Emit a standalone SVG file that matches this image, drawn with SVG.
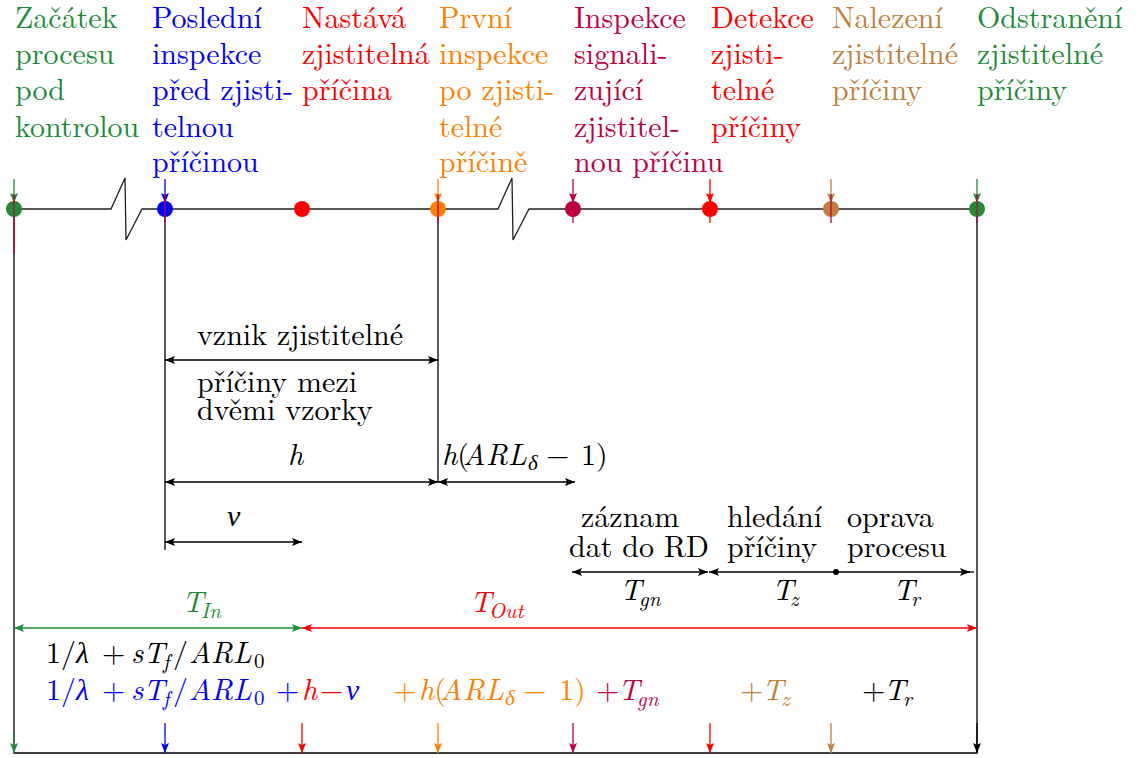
<svg xmlns="http://www.w3.org/2000/svg" width="1142" height="758" viewBox="0 0 1142 758" font-family="'Times New Roman', 'Liberation Serif', serif">
<defs>
<style>
text{font-family:"CMU Serif","Latin Modern Roman","Tinos","Noto Serif","Times New Roman","Nimbus Roman","FreeSerif","Liberation Serif",serif;font-size:30px}
.i{font-style:italic}
.s{font-size:21px}
.k{fill:#000}.g{fill:#228B3A}.b{fill:#0000FF}.r{fill:#FF0000}.o{fill:#FF8000}.c{fill:#BF0040}.n{fill:#BF8040}
.ln{fill:none;stroke-width:1.3}
.sk{stroke:#000}.sg{stroke:#228B3A}.sb{stroke:#0000FF}.sr{stroke:#FF0000}.so{stroke:#FF8000}.sc{stroke:#BF0040}.sn{stroke:#BF8040}
</style>
<marker id="ak" viewBox="0 0 10 8" refX="10" refY="4" markerWidth="10" markerHeight="8" markerUnits="userSpaceOnUse" orient="auto-start-reverse"><path d="M0,0 L10,4 L0,8 L2,4 z" fill="#000"/></marker>
<marker id="ag" viewBox="0 0 10 8" refX="10" refY="4" markerWidth="10" markerHeight="8" markerUnits="userSpaceOnUse" orient="auto-start-reverse"><path d="M0,0 L10,4 L0,8 L2,4 z" fill="#228B3A"/></marker>
<marker id="ab" viewBox="0 0 10 8" refX="10" refY="4" markerWidth="10" markerHeight="8" markerUnits="userSpaceOnUse" orient="auto-start-reverse"><path d="M0,0 L10,4 L0,8 L2,4 z" fill="#0000FF"/></marker>
<marker id="ar" viewBox="0 0 10 8" refX="10" refY="4" markerWidth="10" markerHeight="8" markerUnits="userSpaceOnUse" orient="auto-start-reverse"><path d="M0,0 L10,4 L0,8 L2,4 z" fill="#FF0000"/></marker>
<marker id="ao" viewBox="0 0 10 8" refX="10" refY="4" markerWidth="10" markerHeight="8" markerUnits="userSpaceOnUse" orient="auto-start-reverse"><path d="M0,0 L10,4 L0,8 L2,4 z" fill="#FF8000"/></marker>
<marker id="ac" viewBox="0 0 10 8" refX="10" refY="4" markerWidth="10" markerHeight="8" markerUnits="userSpaceOnUse" orient="auto-start-reverse"><path d="M0,0 L10,4 L0,8 L2,4 z" fill="#BF0040"/></marker>
<marker id="an" viewBox="0 0 10 8" refX="10" refY="4" markerWidth="10" markerHeight="8" markerUnits="userSpaceOnUse" orient="auto-start-reverse"><path d="M0,0 L10,4 L0,8 L2,4 z" fill="#BF8040"/></marker>
</defs>

<!-- header labels -->
<g id="n1" class="g"><text x="15" y="28">Začátek</text><text x="15" y="64">procesu</text><text x="15" y="100">pod</text><text x="15" y="137">kontrolou</text></g>
<g id="n2" class="b"><text x="152" y="28">Poslední</text><text x="152" y="64">inspekce</text><text x="152" y="100">před zjisti-</text><text x="152" y="137">telnou</text><text x="152" y="172">příčinou</text></g>
<g id="n3" class="r"><text x="302" y="28">Nastává</text><text x="302" y="64">zjistitelná</text><text x="302" y="100">příčina</text></g>
<g id="n4" class="o"><text x="439" y="28">První</text><text x="439" y="64">inspekce</text><text x="439" y="100">po zjisti-</text><text x="439" y="137">telné</text><text x="439" y="172">příčině</text></g>
<g id="n5" class="c"><text x="574" y="28">Inspekce</text><text x="574" y="64">signali-</text><text x="574" y="100">zující</text><text x="574" y="137">zjistitel-</text><text x="574" y="172">nou příčinu</text></g>
<g id="n6" class="r"><text x="711" y="28">Detekce</text><text x="711" y="64">zjisti-</text><text x="711" y="100">telné</text><text x="711" y="137">příčiny</text></g>
<g id="n7" class="n"><text x="832" y="28">Nalezení</text><text x="832" y="64">zjistitelné</text><text x="832" y="100">příčiny</text></g>
<g id="n8" class="g"><text x="977" y="28">Odstranění</text><text x="977" y="64">zjistitelné</text><text x="977" y="100">příčiny</text></g>

<!-- connectors -->
<g id="connectors">
<path class="ln" stroke="#222" d="M14 209 H111 L125 178 L126 240 L142 209 H498 L512 178 L513 240 L529 209 H977"/>
<path class="ln sk" d="M14 209 V753 H977 V209 M165 209 V550 M438 209 V482"/>
<circle cx="14" cy="209" r="8" fill="#228B3A"/>
<circle cx="165" cy="209" r="8" fill="#0000FF"/>
<circle cx="302" cy="209" r="8" fill="#FF0000"/>
<circle cx="438" cy="209" r="8" fill="#FF8000"/>
<circle cx="573" cy="209" r="8" fill="#BF0040"/>
<circle cx="710" cy="209" r="8" fill="#FF0000"/>
<circle cx="831" cy="209" r="8" fill="#BF8040"/>
<circle cx="977" cy="209" r="8" fill="#228B3A"/>
<line class="ln sg" x1="14" y1="179" x2="14" y2="203" marker-end="url(#ag)"/>
<line class="ln sb" x1="165" y1="179" x2="165" y2="203" marker-end="url(#ab)"/>
<line class="ln so" x1="438" y1="179" x2="438" y2="203" marker-end="url(#ao)"/>
<line class="ln sc" x1="573" y1="179" x2="573" y2="203" marker-end="url(#ac)"/>
<line class="ln sr" x1="710" y1="179" x2="710" y2="203" marker-end="url(#ar)"/>
<line class="ln sn" x1="831" y1="179" x2="831" y2="203" marker-end="url(#an)"/>
<line class="ln sg" x1="977" y1="179" x2="977" y2="203" marker-end="url(#ag)"/>
<path class="ln sc" d="M14 194 V254 M165 194 V223 M438 194 V223 M573 194 V223 M831 194 V223 M977 194 V223"/>
<line class="ln sr" x1="710" y1="194" x2="710" y2="223"/>
<line class="ln sk" x1="165" y1="360" x2="438" y2="360" marker-start="url(#ak)" marker-end="url(#ak)"/>
<line class="ln sk" x1="165" y1="482" x2="438" y2="482" marker-start="url(#ak)" marker-end="url(#ak)"/>
<line class="ln sk" x1="438" y1="482" x2="575" y2="482" marker-start="url(#ak)" marker-end="url(#ak)"/>
<line class="ln sk" x1="165" y1="542" x2="302" y2="542" marker-start="url(#ak)" marker-end="url(#ak)"/>
<line class="ln sk" x1="572" y1="572" x2="708" y2="572" marker-start="url(#ak)" marker-end="url(#ak)"/>
<line class="ln sk" x1="709" y1="572" x2="836" y2="572" marker-start="url(#ak)"/>
<circle cx="836" cy="572" r="3" fill="#000"/>
<line class="ln sk" x1="836" y1="572" x2="970" y2="572" marker-end="url(#ak)"/>
<line class="ln sk" x1="969" y1="572" x2="974" y2="572"/>
<line class="ln sg" x1="14" y1="628" x2="302" y2="628" marker-start="url(#ag)" marker-end="url(#ag)"/>
<line class="ln sr" x1="302" y1="628" x2="977" y2="628" marker-start="url(#ar)" marker-end="url(#ar)"/>
<line class="ln sg" x1="14" y1="733" x2="14" y2="753" marker-end="url(#ag)"/>
<line class="ln sb" x1="165" y1="723" x2="165" y2="753" marker-end="url(#ab)"/>
<line class="ln sr" x1="302" y1="723" x2="302" y2="753" marker-end="url(#ar)"/>
<line class="ln so" x1="438" y1="723" x2="438" y2="753" marker-end="url(#ao)"/>
<line class="ln sc" x1="573" y1="723" x2="573" y2="753" marker-end="url(#ac)"/>
<line class="ln sr" x1="710" y1="723" x2="710" y2="753" marker-end="url(#ar)"/>
<line class="ln sn" x1="831" y1="723" x2="831" y2="753" marker-end="url(#an)"/>
<line class="ln sk" x1="977" y1="723" x2="977" y2="753" marker-end="url(#ak)"/>
</g>

<!-- labels -->
<g id="labels" class="k">
<text x="197" y="345">vznik zjistitelné</text>
<text x="197" y="392">příčiny mezi</text>
<text x="197" y="420">dvěmi vzorky</text>
<text x="288" y="465" class="i">h</text>
<text y="465"><tspan class="i" x="442">h</tspan>(<tspan class="i" x="463 486 508">ARL</tspan><tspan class="i s" x="528" dy="5">δ</tspan><tspan x="546" dy="-5">−</tspan><tspan x="581">1)</tspan></text>
<text x="227" y="526" class="i">ν</text>
<text x="581" y="527">záznam</text>
<text x="569" y="557">dat do RD</text>
<text x="727" y="527">hledání</text>
<text x="727" y="557">příčiny</text>
<text x="847" y="527">oprava</text>
<text x="847" y="557">procesu</text>
<text y="600"><tspan class="i" x="620">T</tspan><tspan class="i s" x="639" dy="6">gn</tspan></text>
<text y="600"><tspan class="i" x="772">T</tspan><tspan class="i s" x="790" dy="6">z</tspan></text>
<text y="600"><tspan class="i" x="893">T</tspan><tspan class="i s" x="911" dy="6">r</tspan></text>
</g>
<g id="formulas">
<text y="612" class="g"><tspan class="i" x="182">T</tspan><tspan class="i s" x="201" dy="6">In</tspan></text>
<text y="612" class="r"><tspan class="i" x="470">T</tspan><tspan class="i s" x="489" dy="6">Out</tspan></text>
<text y="663" class="k"><tspan x="46">1/</tspan><tspan class="i">λ</tspan><tspan x="102">+</tspan><tspan class="i" x="131">sT</tspan><tspan class="i s" x="163" dy="6">f</tspan><tspan x="173" dy="-6">/</tspan><tspan class="i" x="189 211 233">ARL</tspan><tspan class="s" x="254" dy="5">0</tspan></text>
<text y="700" class="b"><tspan x="46">1/</tspan><tspan class="i">λ</tspan><tspan x="102">+</tspan><tspan class="i" x="131">sT</tspan><tspan class="i s" x="163" dy="6">f</tspan><tspan x="173" dy="-6">/</tspan><tspan class="i" x="189 211 233">ARL</tspan><tspan class="s" x="254" dy="5">0</tspan><tspan x="276" dy="-5">+</tspan></text>
<text y="700" class="r"><tspan class="i" x="302">h</tspan><tspan x="320">−</tspan></text>
<text x="346" y="700" class="b i">ν</text>
<text y="700" class="o"><tspan x="393">+</tspan><tspan class="i" x="419">h</tspan>(<tspan class="i" x="440 463 485">ARL</tspan><tspan class="i s" x="505" dy="5">δ</tspan><tspan x="523" dy="-5">−</tspan><tspan x="559">1)</tspan></text>
<text y="700" class="c"><tspan x="596">+</tspan><tspan class="i" x="618">T</tspan><tspan class="i s" x="637" dy="6">gn</tspan></text>
<text y="700" class="n"><tspan x="740">+</tspan><tspan class="i" x="762">T</tspan><tspan class="i s" x="781" dy="6">z</tspan></text>
<text y="700" class="k"><tspan x="862">+</tspan><tspan class="i" x="884">T</tspan><tspan class="i s" x="903" dy="6">r</tspan></text>
</g>
</svg>
